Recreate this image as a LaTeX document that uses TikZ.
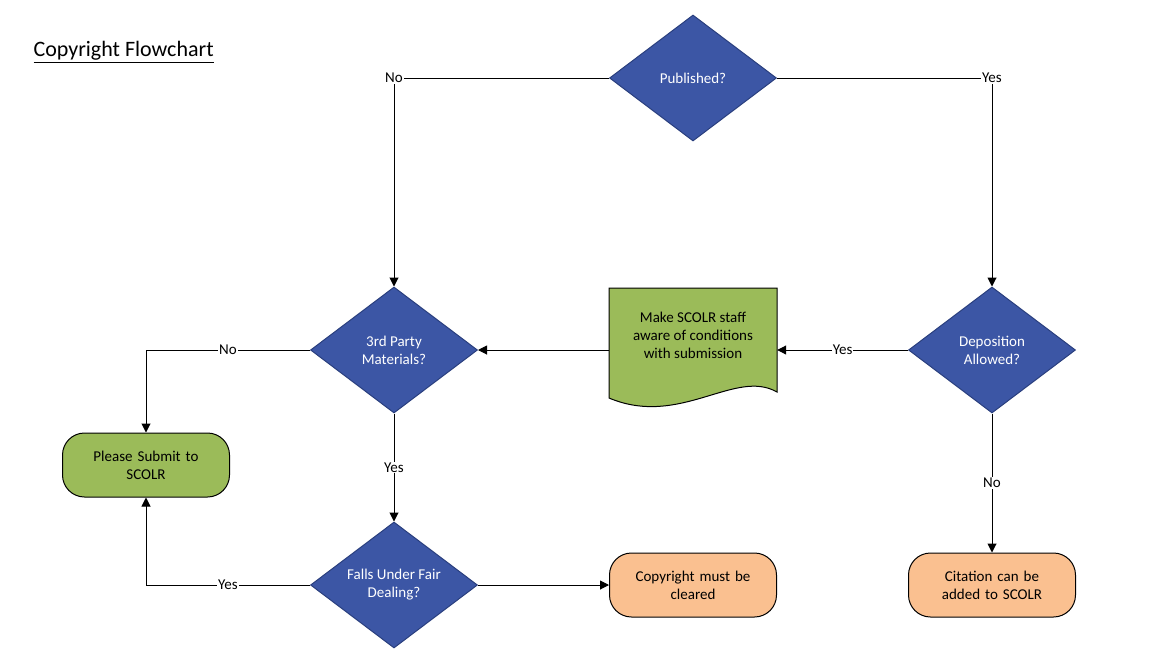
\documentclass[tikz,border=0pt]{standalone}
\usepackage{fontspec}
\setmainfont{Carlito}
\usetikzlibrary{shapes.geometric,arrows.meta}
\definecolor{dblue}{HTML}{3C56A5}
\definecolor{dborder}{HTML}{2A3F7E}
\definecolor{dgreen}{HTML}{9BBB59}
\definecolor{gborder}{HTML}{71893F}
\definecolor{dorange}{HTML}{FAC090}
\begin{document}
\begin{tikzpicture}[x=1pt,y=-1pt,
  every node/.style={font=\fontsize{15}{18}\selectfont},
  dia/.style={diamond,aspect=1.33,minimum width=167,minimum height=126,inner sep=0pt,fill=dblue,draw=dborder,line width=1pt,text=white,align=center},
  term/.style={rounded corners=22pt,minimum width=167,minimum height=64,draw=black,line width=1pt,align=center,text width=150},
  arr/.style={-{Triangle[length=9pt,width=9pt]},line width=1pt},
  lab/.style={fill=white,inner sep=1pt}]
\useasboundingbox (0,0) rectangle (1157,665);
\node[font=\fontsize{22}{26}\selectfont,anchor=west] (title) at (30,52) {\underline{Copyright Flowchart}};
\node[dia] (pub) at (693,78) {Published?};
\node[dia] (third) at (394,350) {3rd Party\\Materials?};
\node[dia] (dep) at (992,350) {Deposition\\Allowed?};
\node[dia] (fair) at (394,585) {Falls Under Fair\\Dealing?};
\node[minimum width=168,minimum height=124,inner sep=0pt] (doc) at (693,350) {};
\fill[dgreen,draw=black,line width=1pt] (609,288)--(777,288)--(777,392) .. controls (735,368) and (680,428) .. (609,398) -- cycle;
\node[align=center] (doctext) at (693,335) {Make SCOLR staff\\aware of conditions\\with submission};
\node[term,fill=dgreen] (submit) at (146,465) {Please Submit to\\SCOLR};
\node[term,fill=dorange] (clear) at (693,585) {Copyright must be\\cleared};
\node[term,fill=dorange] (cite) at (992,585) {Citation can be\\added to SCOLR};
\draw[arr] (pub.west) -| node[lab,pos=0.5]{No} (third.north);
\draw[arr] (pub.east) -| node[lab,pos=0.5]{Yes} (dep.north);
\draw[arr] (dep.west) -- node[lab,pos=0.5]{Yes} (doc.east);
\draw[arr] (doc.west) -- (third.east);
\draw[arr] (third.west) -| node[lab,pos=0.25]{No} (submit.north);
\draw[arr] (third.south) -- node[lab]{Yes} (fair.north);
\draw[arr] (fair.west) -| node[lab,pos=0.25]{Yes} (submit.south);
\draw[arr] (fair.east) -- (clear.west);
\draw[arr] (dep.south) -- node[lab,pos=0.5]{No} (cite.north);
\end{tikzpicture}
\end{document}
